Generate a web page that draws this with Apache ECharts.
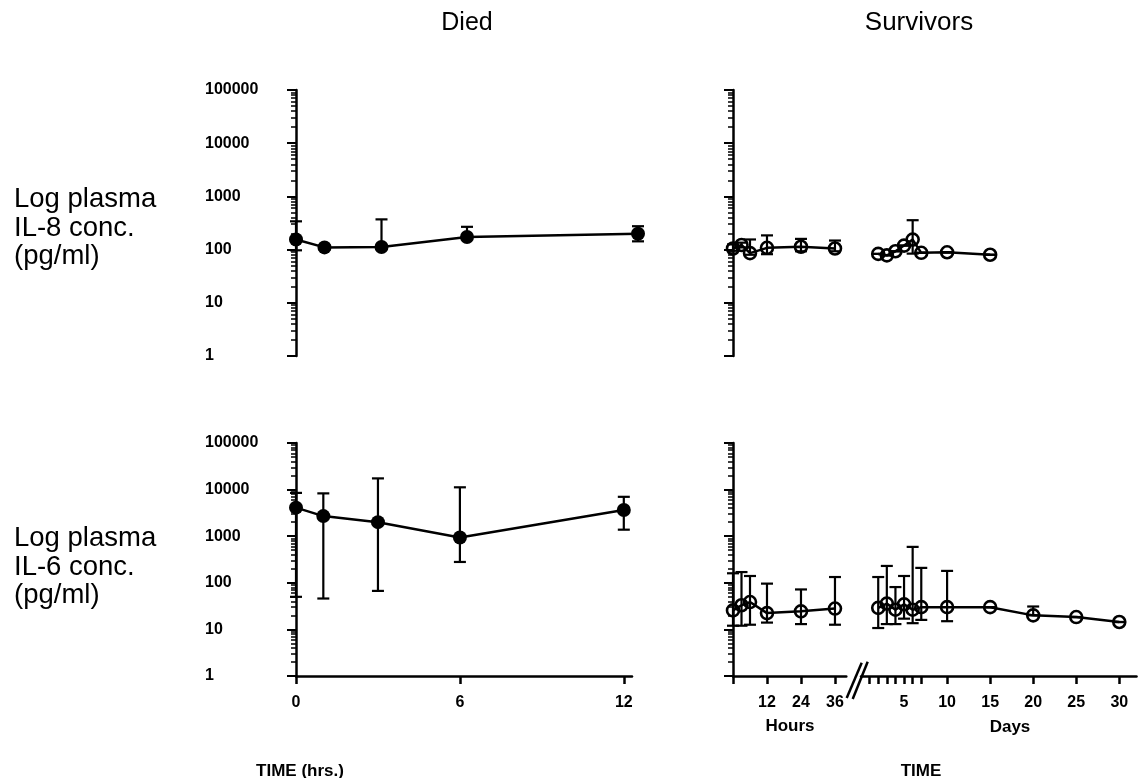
<!DOCTYPE html>
<html>
<head>
<meta charset="utf-8">
<script src="https://cdn.jsdelivr.net/npm/echarts@6/dist/echarts.min.js"></script>
<style>
html,body{margin:0;padding:0;background:#fff;}
#chart{width:1138px;height:778px;}
</style>
</head>
<body>
<div id="chart"></div>
<script>
// ---------- DATA ----------
const panelTitles = ['Died', 'Survivors'];
const yTickValues = [1, 10, 100, 1000, 10000, 100000];

// Died (hours)
const diedHours = [0, 1, 3, 6, 12];
const diedIL8 = [155, 110, 112, 172, 198];
const diedIL8Low = [97, 100, 112, 172, 143];
const diedIL8High = [340, 120, 370, 268, 275];
const diedIL6 = [4100, 2700, 2000, 940, 3650];
const diedIL6Low = [50, 46, 67, 280, 1380];
const diedIL6High = [8500, 8300, 17400, 11200, 7000];

// Survivors, hours part
const survHoursIL8 = [0, 3, 6, 12, 24, 36];
const survHrIL8 = [105, 122, 86, 108, 113, 105];
const survHrIL8Low = [95, 110, 80, 82, 93, 93];
const survHrIL8High = [125, 135, 155, 185, 159, 148];

const survHoursIL6 = [0, 3, 6, 12, 24, 36];
const survHrIL6 = [25.6, 33, 38.6, 22.4, 24.4, 28];
const survHrIL6Low = [12, 12, 12.6, 14, 13, 12.6];
const survHrIL6High = [160, 170, 140, 96, 72, 133];

// Survivors, days part
const survDaysIL8 = [2, 3, 4, 5, 6, 7, 10, 15];
const survDyIL8 = [83, 78, 93, 119, 154, 87, 89, 80];
const survDyIL8Low = [83, 78, 93, 119, 84, 87, 89, 80];
const survDyIL8High = [83, 78, 93, 119, 357, 87, 89, 80];

const survDaysIL6 = [2, 3, 4, 5, 6, 7, 10, 15, 20, 25, 30];
const survDyIL6 = [29, 35.7, 26.5, 34.5, 26.5, 30, 30, 30, 20, 18.4, 14.4];
const survDyIL6Low = [10.7, 13, 13, 17, 13.6, 16, 15, 30, 20, 18.4, 14.4];
const survDyIL6High = [133, 230, 81, 140, 590, 209, 180, 30, 31, 18.4, 14.4];

// x ticks
const diedTicks = [0, 6, 12];
const hourTicks = [0, 12, 24, 36];
const hourLabels = [12, 24, 36];
const dayTicks = [1, 2, 3, 4, 5, 6, 7, 10, 15, 20, 25, 30];
const dayLabels = [5, 10, 15, 20, 25, 30];

// ---------- CHART ----------
const FONT = '"Liberation Sans", Arial, Helvetica, sans-serif';
const chart = echarts.init(document.getElementById('chart'), null, {renderer: 'canvas'});

const grids = [
  {left: 296, top: 90, width: 342, height: 266},    // 0 died IL-8
  {left: 296, top: 443, width: 336, height: 233},   // 1 died IL-6
  {left: 733, top: 90, width: 113.3, height: 266},  // 2 surv hours IL-8
  {left: 861, top: 90, width: 275.5, height: 266},  // 3 surv days IL-8
  {left: 733, top: 443, width: 113.3, height: 233}, // 4 surv hours IL-6
  {left: 861, top: 443, width: 275.5, height: 233}  // 5 surv days IL-6
];

function hiddenX(idx, max) {
  return {type: 'value', gridIndex: idx, min: 0, max: max, show: false, splitLine: {show: false}};
}
function shownX(idx, max, ticks, labels) {
  return {
    type: 'value', gridIndex: idx, min: 0, max: max, position: 'bottom',
    axisLine: {show: true, onZero: false, lineStyle: {color: '#000', width: 2.5}},
    axisTick: {show: true, length: 8, customValues: ticks, lineStyle: {color: '#000', width: 2.5}},
    axisLabel: {show: true, customValues: labels, margin: 19, color: '#000',
      fontFamily: FONT, fontWeight: 'bold', fontSize: 16},
    splitLine: {show: false}
  };
}
function yAx(idx, showAxis, showLabels) {
  return {
    type: 'log', logBase: 10, gridIndex: idx, min: 1, max: 100000,
    show: showAxis,
    axisLine: {show: true, onZero: false, lineStyle: {color: '#000', width: 2.5}},
    axisTick: {show: true, length: 9, lineStyle: {color: '#000', width: 2}},
    minorTick: {show: true, splitNumber: 9, length: 5, lineStyle: {color: '#000', width: 1.5}},
    axisLabel: {show: showLabels, align: 'left', margin: 91, color: '#000',
      fontFamily: FONT, fontWeight: 'bold', fontSize: 16,
      formatter: v => String(Math.round(v))},
    splitLine: {show: false},
    minorSplitLine: {show: false}
  };
}

function errSeries(gi, xs, lo, hi) {
  return {
    type: 'custom', xAxisIndex: gi, yAxisIndex: gi, silent: true, clip: false, z: 2,
    data: xs.map((x, i) => [x, lo[i], hi[i]]),
    encode: {x: 0, y: [1, 2]},
    renderItem: function (params, api) {
      const x = api.value(0);
      const pl = api.coord([x, api.value(1)]);
      const ph = api.coord([x, api.value(2)]);
      const w = 6;
      const st = {stroke: '#000', lineWidth: 2.2};
      return {type: 'group', children: [
        {type: 'line', shape: {x1: pl[0], y1: pl[1], x2: ph[0], y2: ph[1]}, style: st},
        {type: 'line', shape: {x1: ph[0] - w, y1: ph[1], x2: ph[0] + w, y2: ph[1]}, style: st},
        {type: 'line', shape: {x1: pl[0] - w, y1: pl[1], x2: pl[0] + w, y2: pl[1]}, style: st}
      ]};
    }
  };
}
function lineSeries(gi, xs, vals, filled) {
  return {
    type: 'line', xAxisIndex: gi, yAxisIndex: gi, z: 3, silent: true,
    data: xs.map((x, i) => [x, vals[i]]),
    symbol: 'circle',
    symbolSize: filled ? 14 : 12,
    lineStyle: {color: '#000', width: 2.5},
    itemStyle: filled ? {color: '#000', borderColor: '#000', borderWidth: 0}
                      : {color: 'rgba(255,255,255,0)', borderColor: '#000', borderWidth: 2.6},
    emphasis: {disabled: true},
    animation: false
  };
}

const txt = (text, x, y, size, weight, align, lh) => ({
  type: 'text', x: x, y: y, silent: true,
  style: {text: text, fill: '#000', font: (weight || 'normal') + ' ' + size + 'px ' + FONT,
    textAlign: align || 'center', textVerticalAlign: 'middle', lineHeight: lh || size}
});

const option = {
  backgroundColor: '#fff',
  animation: false,
  grid: grids,
  xAxis: [
    hiddenX(0, 12),
    shownX(1, 12.3, diedTicks, diedTicks),
    hiddenX(2, 40),
    hiddenX(3, 32),
    shownX(4, 40, hourTicks, hourLabels),
    shownX(5, 32, dayTicks, dayLabels)
  ],
  yAxis: [
    yAx(0, true, true),
    yAx(1, true, true),
    yAx(2, true, false),
    yAx(3, false, false),
    yAx(4, true, false),
    yAx(5, false, false)
  ],
  series: [
    errSeries(0, diedHours, diedIL8Low, diedIL8High),
    lineSeries(0, diedHours, diedIL8, true),
    errSeries(1, diedHours, diedIL6Low, diedIL6High),
    lineSeries(1, diedHours, diedIL6, true),
    errSeries(2, survHoursIL8, survHrIL8Low, survHrIL8High),
    lineSeries(2, survHoursIL8, survHrIL8, false),
    errSeries(3, survDaysIL8, survDyIL8Low, survDyIL8High),
    lineSeries(3, survDaysIL8, survDyIL8, false),
    errSeries(4, survHoursIL6, survHrIL6Low, survHrIL6High),
    lineSeries(4, survHoursIL6, survHrIL6, false),
    errSeries(5, survDaysIL6, survDyIL6Low, survDyIL6High),
    lineSeries(5, survDaysIL6, survDyIL6, false)
  ],
  graphic: [
    txt(panelTitles[0], 467, 23, 25),
    txt(panelTitles[1], 919, 23, 26),
    txt('Log plasma\nIL-8 conc.\n(pg/ml)', 14, 228, 27.5, 'normal', 'left', 28.5),
    txt('Log plasma\nIL-6 conc.\n(pg/ml)', 14, 567, 27.5, 'normal', 'left', 28.5),
    txt('TIME (hrs.)', 300, 771, 17, 'bold'),
    txt('TIME', 921, 771, 17, 'bold'),
    txt('Hours', 790, 726, 17, 'bold'),
    txt('Days', 1010, 727, 17, 'bold'),
    {type: 'polyline', silent: true, shape: {points: [[846.7, 698], [861.7, 662.7]]},
      style: {stroke: '#000', lineWidth: 2.5}},
    {type: 'polyline', silent: true, shape: {points: [[852.7, 699], [867.7, 661.7]]},
      style: {stroke: '#000', lineWidth: 2.5}}
  ]
};
chart.setOption(option);
</script>
</body>
</html>
